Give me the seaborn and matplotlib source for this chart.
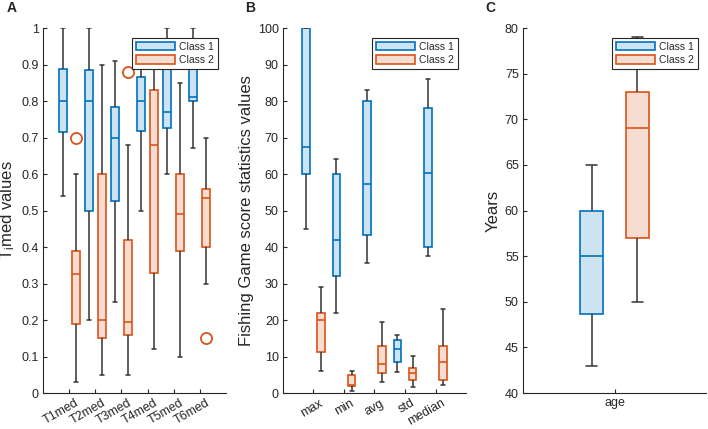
import numpy as np
import pandas as pd
import seaborn as sns
from matplotlib import pyplot as plt
from matplotlib.patches import Patch
from matplotlib.colors import to_rgb
from matplotlib.transforms import ScaledTranslation

# five-number summaries per box: [low whisker, q1, median, q3, high whisker]
a_labels = ['T1med', 'T2med', 'T3med', 'T4med', 'T5med', 'T6med']
a_class1 = [[0.54, 0.715, 0.80, 0.888, 1.00],
            [0.20, 0.50, 0.80, 0.885, 1.00],
            [0.25, 0.525, 0.70, 0.783, 0.91],
            [0.50, 0.718, 0.80, 0.867, 0.95],
            [0.60, 0.725, 0.77, 0.90, 1.00],
            [0.67, 0.80, 0.81, 0.90, 1.00]]
a_class2 = [[0.03, 0.19, 0.325, 0.39, 0.60],
            [0.05, 0.15, 0.20, 0.60, 0.90],
            [0.05, 0.16, 0.195, 0.42, 0.68],
            [0.12, 0.33, 0.68, 0.83, 0.93],
            [0.10, 0.39, 0.49, 0.60, 0.85],
            [0.30, 0.40, 0.535, 0.56, 0.70]]
a_out_cat = ['T1med', 'T3med', 'T6med']
a_out_val = [0.70, 0.88, 0.15]

b_labels = ['max', 'min', 'avg', 'std', 'median']
b_class1 = [[45, 60, 67.5, 100, 100],
            [22, 32, 42, 60, 64],
            [35.5, 43.2, 57.3, 80, 83],
            [5.7, 8.5, 12.1, 14.4, 15.9],
            [37.5, 40, 60.2, 78, 86]]
b_class2 = [[6, 11.2, 20, 22, 29],
            [0.5, 2.0, 2.2, 5.0, 5.9],
            [3.1, 5.5, 7.9, 13, 19.5],
            [1.7, 3.5, 5.4, 6.9, 10.2],
            [2.2, 3.5, 8.5, 12.8, 23.1]]

c_labels = ['age']
c_class1 = [[43, 48.7, 55, 60, 65]]
c_class2 = [[50, 57, 69, 73, 79]]

blue = '#0072BD'
orange = '#D95319'
fill1 = '#CCE3F2'
fill2 = '#F7DDD1'

sns.set_style('ticks')
plt.rcParams['font.family'] = ['Liberation Sans', 'DejaVu Sans']
plt.rcParams['axes.edgecolor'] = '#262626'
plt.rcParams['xtick.color'] = '#262626'
plt.rcParams['ytick.color'] = '#262626'
plt.rcParams['axes.labelcolor'] = '#262626'


def make_frame(labels, c1, c2):
    rows = []
    for lab, s1, s2 in zip(labels, c1, c2):
        for v in s1:
            rows.append((lab, 'Class 1', v))
        for v in s2:
            rows.append((lab, 'Class 2', v))
    return pd.DataFrame(rows, columns=['cat', 'cls', 'val'])


def draw_panel(ax, labels, c1, c2, gap, ylim, yticks, ytl, ylabel, rot):
    df = make_frame(labels, c1, c2)
    sns.boxplot(data=df, x='cat', y='val', hue='cls', order=labels,
                hue_order=['Class 1', 'Class 2'], palette=[fill1, fill2],
                saturation=1, width=1.0, gap=gap, whis=(0, 100),
                linewidth=1.2, legend=False, ax=ax)
    for cont in ax.containers:
        face = np.array(to_rgb(cont.boxes[0].get_facecolor()))
        edge = blue if np.allclose(face, to_rgb(fill1), atol=0.02) else orange
        for b in cont.boxes:
            b.set_edgecolor(edge)
            b.set_linewidth(1.2)
        for m in cont.medians:
            m.set_color(edge)
            m.set_linewidth(1.2)
        for w in list(cont.whiskers) + list(cont.caps):
            w.set_color('#333333')
            w.set_linewidth(1.1)
    ax.set_xlim(-1, len(labels))
    ax.set_ylim(*ylim)
    ax.set_yticks(yticks)
    ax.set_yticklabels(ytl)
    ax.set_xlabel('')
    ax.set_ylabel(ylabel, fontsize=12, labelpad=3)
    ax.tick_params(direction='in', length=3, width=0.8, labelsize=9, pad=3)
    if rot:
        shift = ScaledTranslation(6 / 100, 0, ax.figure.dpi_scale_trans)
        for lab in ax.get_xticklabels():
            lab.set_rotation(30)
            lab.set_ha('right')
            lab.set_va('top')
            lab.set_rotation_mode('anchor')
            lab.set_transform(lab.get_transform() + shift)
    sns.despine(ax=ax)
    handles = [Patch(facecolor=fill1, edgecolor=blue, linewidth=1.2, label='Class 1'),
               Patch(facecolor=fill2, edgecolor=orange, linewidth=1.2, label='Class 2')]
    leg = ax.legend(handles=handles, loc='upper right', bbox_to_anchor=(0.956, 0.973),
                    borderaxespad=0, fancybox=False, framealpha=1, edgecolor='#262626',
                    handlelength=3.8, handleheight=0.95, fontsize=7.5, borderpad=0.35,
                    labelspacing=0.35, handletextpad=0.4)
    leg.get_frame().set_linewidth(0.8)


fig = plt.figure(figsize=(7.08, 4.29), dpi=100)
axA = fig.add_axes([0.0607, 0.0839, 0.2585, 0.8508])
axB = fig.add_axes([0.3997, 0.0839, 0.2585, 0.8508])
axC = fig.add_axes([0.7387, 0.0839, 0.2585, 0.8508])

a_ticks = np.round(np.arange(0, 1.01, 0.1), 1)
draw_panel(axA, a_labels, a_class1, a_class2, 0.4, (0, 1), a_ticks,
           [f'{t:g}' for t in a_ticks], r'$\mathregular{T_i}$med values', True)
out_x = [a_labels.index(c) + 0.25 for c in a_out_cat]
axA.plot(out_x, a_out_val, 'o', mfc='none', mec=orange, ms=8, mew=1.3, zorder=3)

b_ticks = np.arange(0, 101, 10)
draw_panel(axB, b_labels, b_class1, b_class2, 0.5, (0, 100), b_ticks,
           [str(t) for t in b_ticks], 'Fishing Game score statistics values', True)

c_ticks = np.arange(40, 81, 5)
draw_panel(axC, c_labels, c_class1, c_class2, 0.5, (40, 80), c_ticks,
           [str(t) for t in c_ticks], 'Years', False)

for letter, xpos in zip(['A', 'B', 'C'], [7, 245, 485]):
    fig.text(xpos / 708, 1 - 8 / 429, letter, fontsize=10, fontweight='bold',
             va='center', ha='left')

fig.savefig('out.png', dpi=100)
